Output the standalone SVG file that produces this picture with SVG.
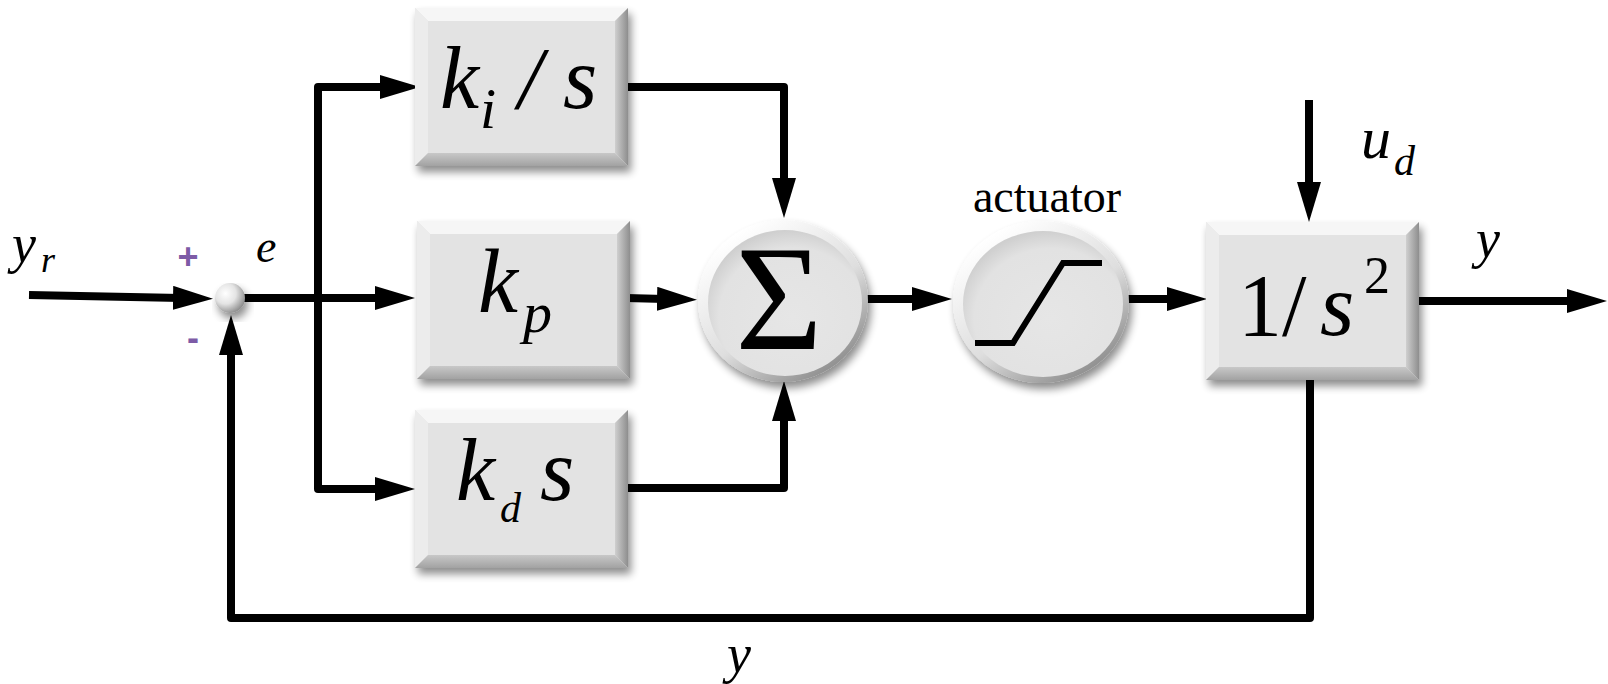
<svg xmlns="http://www.w3.org/2000/svg" xmlns:xlink="http://www.w3.org/1999/xlink" width="1608" height="684" viewBox="0 0 1608 684">
<style>
.m{font-family:"Liberation Serif","Times New Roman",serif;font-style:italic;fill:#000}
.r{font-family:"Liberation Serif","Times New Roman",serif;fill:#000}
.sg{font-family:"Liberation Sans",Arial,sans-serif;font-weight:bold;fill:#7d5ba6}
.wire{fill:none;stroke:#000;stroke-width:8;stroke-linejoin:round}
.arr{marker-end:url(#ah)}
</style>
<defs>
<marker id="ah" viewBox="0 0 10 6" markerWidth="5" markerHeight="3" refX="2" refY="3" orient="auto" markerUnits="strokeWidth">
<path d="M0,0 L10,3 L0,6 Z" fill="#000"/>
</marker>
<filter id="sh" x="-20%" y="-20%" width="150%" height="150%">
<feGaussianBlur in="SourceAlpha" stdDeviation="4"/>
<feOffset dx="3" dy="6" result="b"/>
<feComponentTransfer><feFuncA type="linear" slope="0.45"/></feComponentTransfer>
<feMerge><feMergeNode/><feMergeNode in="SourceGraphic"/></feMerge>
</filter>
<linearGradient id="gR" x1="0" y1="0" x2="1" y2="0"><stop offset="0" stop-color="#cfcfcf"/><stop offset="1" stop-color="#8e8e8e"/></linearGradient>
<linearGradient id="gB" x1="0" y1="0" x2="0" y2="1"><stop offset="0" stop-color="#c8c8c8"/><stop offset="1" stop-color="#a2a2a2"/></linearGradient>
<linearGradient id="gRim" x1="0.2" y1="0.1" x2="0.8" y2="0.95"><stop offset="0" stop-color="#ffffff"/><stop offset="0.55" stop-color="#dedede"/><stop offset="1" stop-color="#8a8a8a"/></linearGradient>
<radialGradient id="gFace" cx="0.55" cy="0.6" r="0.6"><stop offset="0" stop-color="#e6e6e6"/><stop offset="0.8" stop-color="#e2e2e2"/><stop offset="1" stop-color="#cfcfcf"/></radialGradient>
<radialGradient id="gBall" cx="0.35" cy="0.35" r="0.7"><stop offset="0" stop-color="#ffffff"/><stop offset="0.5" stop-color="#e4e4e4"/><stop offset="1" stop-color="#8c8c8c"/></radialGradient>
<g id="box">
<rect x="0" y="0" width="213" height="158" fill="#e3e3e3" filter="url(#sh)"/>
<polygon points="0,0 213,0 200,13 13,13" fill="#f6f6f6"/>
<polygon points="0,0 13,13 13,145 0,158" fill="#ececec"/>
<polygon points="213,0 213,158 200,145 200,13" fill="url(#gR)"/>
<polygon points="0,158 213,158 200,145 13,145" fill="url(#gB)"/>
<rect x="13" y="13" width="187" height="132" fill="#e3e3e3"/>
</g>
</defs>
<rect width="1608" height="684" fill="#fff"/>

<g id="connectors">
<path class="wire arr" d="M29,295 L181,298"/>
<path class="wire arr" d="M244,298 L383,298"/>
<path class="wire arr" d="M318,298 L318,87 L388,87"/>
<path class="wire arr" d="M318,298 L318,489 L383,489"/>
<path class="wire arr" d="M628,87 L784,87 L784,186"/>
<path class="wire arr" d="M626,298 L665,299"/>
<path class="wire arr" d="M628,488 L784,488 L784,413"/>
<path class="wire arr" d="M866,299 L920,299"/>
<path class="wire arr" d="M1128,299 L1175,299"/>
<path class="wire arr" d="M1309,100 L1309,190"/>
<path class="wire arr" d="M1415,301 L1575,301"/>
<path class="wire arr" d="M1310,380 L1310,618 L231,618 L231,347"/>
</g>

<g id="junction">
<circle cx="230" cy="298" r="15" fill="url(#gBall)" filter="url(#sh)"/>
<text class="sg" x="188" y="269" font-size="36" text-anchor="middle">+</text>
<text class="sg" x="193" y="350" font-size="36" text-anchor="middle">-</text>
<text class="m" x="256" y="262" font-size="46">e</text>
</g>

<g id="input-label">
<text class="m" x="12" y="262" font-size="54">y</text>
<text class="m" x="41" y="272" font-size="36">r</text>
</g>

<g id="ki">
<use xlink:href="#box" x="415" y="8"/>
<text class="m" x="440" y="108" font-size="88">k</text>
<text class="m" x="480" y="128" font-size="58">i</text>
<text class="m" x="518" y="108" font-size="88">/</text>
<text class="m" x="563" y="108" font-size="88">s</text>
</g>

<g id="kp">
<use xlink:href="#box" x="417" y="221"/>
<text class="m" x="478" y="312" font-size="90">k</text>
<text class="m" x="523" y="332" font-size="58">p</text>
</g>

<g id="kd">
<use xlink:href="#box" x="415" y="410"/>
<text class="m" x="456" y="500" font-size="88">k</text>
<text class="m" x="500" y="522" font-size="42">d</text>
<text class="m" x="540" y="500" font-size="88">s</text>
</g>

<g id="sum">
<ellipse cx="783" cy="301" rx="85" ry="81" fill="url(#gRim)" filter="url(#sh)"/>
<ellipse cx="785" cy="303" rx="77" ry="73" fill="url(#gFace)"/>
<text class="r" x="779" y="349" font-size="150" text-anchor="middle">Σ</text>
</g>

<g id="actuator">
<text class="r" x="1047" y="212" font-size="46" text-anchor="middle">actuator</text>
<ellipse cx="1041" cy="302" rx="88" ry="81" fill="url(#gRim)" filter="url(#sh)"/>
<ellipse cx="1043" cy="304" rx="80" ry="73" fill="url(#gFace)"/>
<path d="M975,343 L1013,343 L1063,263 L1102,263" fill="none" stroke="#000" stroke-width="6"/>
</g>

<g id="plant">
<use xlink:href="#box" x="1206" y="222"/>
<text class="r" x="1238" y="335" font-size="88">1/</text>
<text class="m" x="1320" y="335" font-size="88">s</text>
<text class="r" x="1364" y="293" font-size="52">2</text>
</g>

<g id="labels">
<text class="m" x="1361" y="158" font-size="60">u</text>
<text class="m" x="1394" y="175" font-size="42">d</text>
<text class="m" x="1476" y="257" font-size="54">y</text>
<text class="m" x="727" y="672" font-size="54">y</text>
</g>
</svg>
